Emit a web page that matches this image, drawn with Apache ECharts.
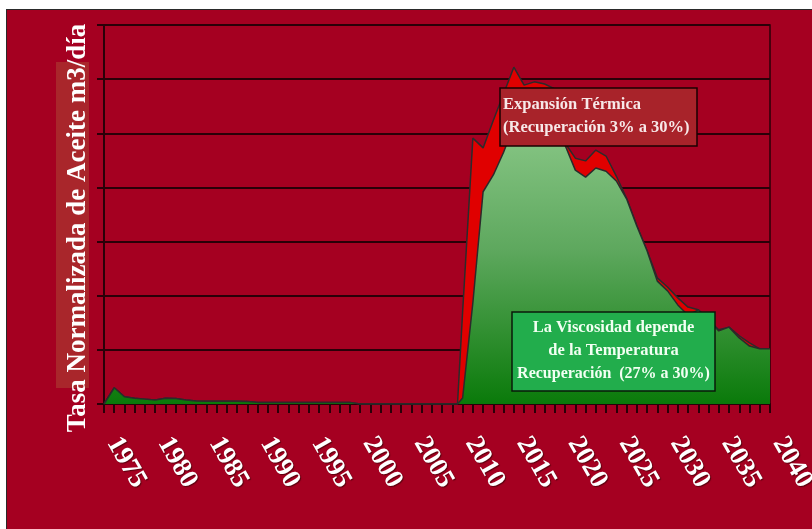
<!DOCTYPE html>
<html>
<head>
<meta charset="utf-8">
<script src="https://cdn.jsdelivr.net/npm/echarts@6/dist/echarts.min.js"></script>
<style>
  html, body { margin: 0; padding: 0; background: #ffffff; }
  #frame { position: absolute; left: 6px; top: 9px; width: 806px; height: 520px;
           background: #A50021; border-left: 1px solid #2a2a2a; border-top: 1px solid #2a2a2a; box-sizing: border-box; }
  #chart { position: absolute; left: 0; top: 0; width: 812px; height: 529px; }
</style>
</head>
<body>
<div id="frame"></div>
<div id="chart"></div>
<script>
// Years of the forecast (a half-year point marks where the rise begins)
const years = [
  1975, 1976, 1977, 1978, 1979, 1980, 1981, 1982, 1983, 1984,
  1985, 1986, 1987, 1988, 1989, 1990, 1991, 1992, 1993, 1994,
  1995, 1996, 1997, 1998, 1999, 2000, 2001, 2002, 2003, 2004,
  2005, 2006, 2007, 2008, 2009, 2009.5, 2010, 2011, 2012, 2013,
  2014, 2015, 2016, 2017, 2018, 2019, 2020, 2021, 2022, 2023,
  2024, 2025, 2026, 2027, 2028, 2029, 2030, 2031, 2032, 2033,
  2034, 2035, 2036, 2037, 2038, 2039, 2040
];

// Rate driven by viscosity reduction (green area)
const viscosidad = [
  0, 30, 13.5, 10.5, 9, 7.5, 10.5, 10, 7.5, 5.5,
  5, 5, 5, 5, 4.5, 3, 3, 3, 3, 3,
  3, 3, 3, 3, 3, 0, 0, 0, 0, 0,
  0, 0, 0, 0, 0, 0, 11, 187, 392, 423,
  465, 515, 552, 571, 562, 528, 478, 432, 419, 436,
  430, 412, 379, 329, 283, 227, 209, 183, 164, 174,
  155, 135, 142, 122, 107, 102, 102
];

// Total rate including thermal expansion (red area)
const expansion = [
  0, 30, 13.5, 10.5, 9, 7.5, 10.5, 10, 7.5, 5.5,
  5, 5, 5, 5, 4.5, 3, 3, 3, 3, 3,
  3, 3, 3, 3, 3, 0, 0, 0, 0, 0,
  0, 0, 0, 0, 0, 0, 170, 491, 473, 524,
  573, 622, 589, 595, 591, 582, 482, 454, 449, 469,
  458, 421, 380, 329, 283, 233, 216, 196, 179, 174,
  155, 137, 142, 126, 113, 102, 102
];

const yearLabels = [1975, 1980, 1985, 1990, 1995, 2000, 2005, 2010, 2015, 2020, 2025, 2030, 2035, 2040];

const yTitle = 'Tasa Normalizada de Aceite m3/día';
const boxThermal = ['Expansión Térmica', '(Recuperación 3% a 30%)'];
const boxViscosity = ['La Viscosidad depende', 'de la Temperatura', 'Recuperación  (27% a 30%)'];

const pair = arr => years.map((y, i) => [y, arr[i]]);
const dark = '#2a0008';
const serif = '"Liberation Serif", "DejaVu Serif", serif';

const chart = echarts.init(document.getElementById('chart'), null, { renderer: 'canvas' });

chart.setOption({
  backgroundColor: 'transparent',
  animation: false,
  grid: {
    left: 104, top: 25, right: 42, bottom: 125, outerBoundsMode: 'none', containLabel: false,
    show: true, borderColor: dark, borderWidth: 1.5, backgroundColor: 'transparent'
  },
  xAxis: {
    type: 'value', min: 1975, max: 2040, interval: 5,
    axisLine: { show: true, lineStyle: { color: dark, width: 2 } },
    axisTick: { show: true, length: 9, lineStyle: { color: dark, width: 2 } },
    minorTick: { show: true, splitNumber: 5, length: 9, lineStyle: { color: dark, width: 2 } },
    splitLine: { show: false },
    axisLabel: {
      rotate: -60, margin: 40, color: '#ffffff', verticalAlign: 'bottom', lineHeight: 20,
      fontFamily: serif, fontSize: 27, fontWeight: 'bold',
      textShadowColor: 'rgba(40,0,0,0.6)', textShadowBlur: 1, textShadowOffsetX: 1, textShadowOffsetY: 1,
      formatter: v => (yearLabels.indexOf(v) >= 0 ? String(v) : '')
    }
  },
  yAxis: {
    type: 'value', min: 0, max: 700, interval: 100,
    axisLine: { show: true, lineStyle: { color: dark, width: 2 } },
    axisTick: { show: true, length: 7, lineStyle: { color: dark, width: 2 } },
    axisLabel: { show: false },
    splitLine: { show: true, lineStyle: { color: dark, width: 2 } }
  },
  series: [
    {
      name: 'Expansión Térmica', type: 'line', data: pair(expansion),
      showSymbol: false, z: 2,
      lineStyle: { color: '#2b2b2b', width: 1.5 },
      areaStyle: { color: '#E00000', opacity: 1 }
    },
    {
      name: 'Viscosidad', type: 'line', data: pair(viscosidad),
      showSymbol: false, z: 3,
      lineStyle: { color: '#2b2b2b', width: 1.5 },
      areaStyle: {
        opacity: 1,
        color: new echarts.graphic.LinearGradient(0, 0, 0, 1, [
          { offset: 0, color: '#93CE90' },
          { offset: 0.5, color: '#5EA85E' },
          { offset: 1, color: '#0A7A0A' }
        ])
      }
    }
  ],
  graphic: [
    // shaded band behind the axis title
    { type: 'rect', z: 1, shape: { x: 56, y: 62, width: 33, height: 326 }, style: { fill: '#A9262B' } },
    {
      type: 'text', z: 5, x: 78, y: 228, rotation: Math.PI / 2,
      style: {
        text: yTitle, fill: '#ffffff', font: 'bold 27px ' + serif,
        textAlign: 'center', textVerticalAlign: 'middle',
        shadowColor: 'rgba(40,0,0,0.5)', shadowBlur: 1, shadowOffsetX: 1, shadowOffsetY: 1
      }
    },
    // thermal expansion note
    { type: 'rect', z: 10, shape: { x: 500, y: 88, width: 197, height: 58 }, style: { fill: '#A8232A', stroke: '#1a0000', lineWidth: 1.5 } },
    { type: 'text', z: 11, x: 503, y: 105, style: { text: boxThermal[0], fill: '#F7E8E8', font: 'bold 16.5px ' + serif, textVerticalAlign: 'middle' } },
    { type: 'text', z: 11, x: 503, y: 128, style: { text: boxThermal[1], fill: '#F7E8E8', font: 'bold 16.5px ' + serif, textVerticalAlign: 'middle' } },
    // viscosity note
    { type: 'rect', z: 10, shape: { x: 512, y: 312, width: 203, height: 79 }, style: { fill: '#22AD4C', stroke: '#0a1a0a', lineWidth: 1.5 } },
    { type: 'text', z: 11, x: 613.5, y: 328, style: { text: boxViscosity[0], fill: '#F2FFF2', font: 'bold 16.5px ' + serif, textAlign: 'center', textVerticalAlign: 'middle' } },
    { type: 'text', z: 11, x: 613.5, y: 351, style: { text: boxViscosity[1], fill: '#F2FFF2', font: 'bold 16.5px ' + serif, textAlign: 'center', textVerticalAlign: 'middle' } },
    { type: 'text', z: 11, x: 613.5, y: 374, style: { text: boxViscosity[2], fill: '#F2FFF2', font: 'bold 16px ' + serif, textAlign: 'center', textVerticalAlign: 'middle' } }
  ]
});
</script>
</body>
</html>
